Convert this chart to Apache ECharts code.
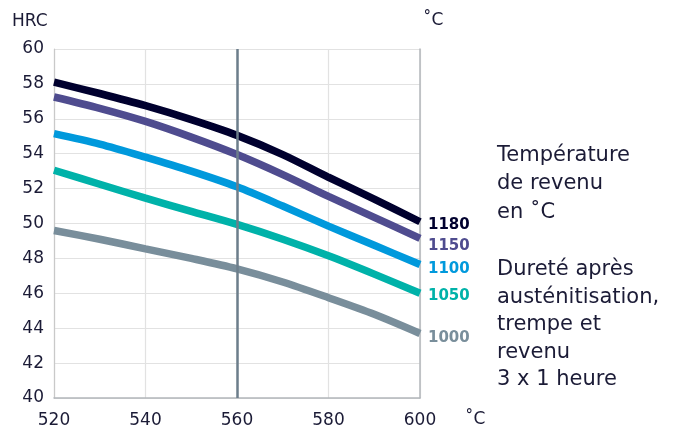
<!DOCTYPE html>
<html>
<head>
<meta charset="utf-8">
<script src="https://cdn.jsdelivr.net/npm/echarts@6/dist/echarts.min.js"></script>
<style>html,body{margin:0;padding:0;background:#fff}#c{width:677px;height:430px}</style>
</head>
<body>
<div id="c"></div>
<script>
const temps = [520, 530, 540, 550, 560, 570, 580, 590, 600];
const s1180 = [58.1, 57.45, 56.75, 55.95, 55.05, 53.95, 52.65, 51.4, 50.1];
const s1150 = [57.25, 56.6, 55.85, 54.95, 53.95, 52.8, 51.55, 50.35, 49.15];
const s1100 = [55.15, 54.55, 53.8, 53.0, 52.1, 51.0, 49.85, 48.75, 47.65];
const s1050 = [53.05, 52.25, 51.45, 50.7, 49.95, 49.1, 48.15, 47.1, 46.0];
const s1000 = [49.6, 49.1, 48.55, 48.0, 47.4, 46.65, 45.75, 44.8, 43.7];
const seriesNames = ['1180', '1150', '1100', '1050', '1000'];
const seriesColors = ['#00002e', '#4f4c8f', '#0099dc', '#00b2a9', '#798e9b'];
const labelOffsets = [[3, 3], [3, 8], [3, 5], [3, 3], [3, 5]];
const refTemp = 560;
const noteLines1 = ['Température', 'de revenu', 'en ˚C'];
const noteLines2 = ['Dureté après', 'austénitisation,', 'trempe et', 'revenu', '3 x 1 heure'];

const allData = [s1180, s1150, s1100, s1050, s1000];
const font = '"DejaVu Sans", "Noto Sans", sans-serif';
const textColor = '#1b1b36';

const series = allData.map((arr, i) => ({
  type: 'line',
  name: seriesNames[i],
  data: arr.map((v, j) => [temps[j], v]),
  smooth: 0.3,
  symbol: 'none',
  z: 3,
  lineStyle: { color: seriesColors[i], width: 7.5, cap: 'butt' },
  endLabel: {
    show: true,
    formatter: seriesNames[i],
    color: seriesColors[i],
    fontFamily: font,
    fontWeight: 'bold',
    fontSize: 15,
    distance: 5,
    offset: labelOffsets[i]
  }
}));
series.unshift({
  type: 'line',
  data: [],
  z: 1,
  markLine: {
    silent: true,
    symbol: 'none',
    label: { show: false },
    lineStyle: { color: '#6c7e8b', width: 2.5, type: 'solid' },
    data: [{ xAxis: refTemp }]
  }
});

const graphics = [
  { type: 'text', left: 12, top: 13, style: { text: 'HRC', font: '17px ' + font, fill: textColor } },
  { type: 'text', left: 423, top: 12, style: { text: '˚C', font: '17px ' + font, fill: textColor } },
  { type: 'text', left: 465, top: 411, style: { text: '˚C', font: '17px ' + font, fill: textColor } },
  { type: 'text', left: 497, top: 141, style: { text: noteLines1.join('\n'), font: '21px ' + font, lineHeight: 28.5, fill: textColor } },
  { type: 'text', left: 497, top: 256, style: { text: noteLines2.join('\n'), font: '21px ' + font, lineHeight: 27.5, fill: textColor } }
];

const chart = echarts.init(document.getElementById('c'));
chart.setOption({
  animation: false,
  backgroundColor: '#fff',
  grid: { left: 54, right: 257, top: 49, bottom: 32, containLabel: false },
  xAxis: {
    type: 'value', min: 520, max: 600, interval: 20,
    axisLine: { show: true, lineStyle: { color: '#b3b7bb', width: 1.5 } },
    axisTick: { show: false },
    splitLine: { show: true, lineStyle: { color: '#e2e2e2', width: 1.2 } },
    axisLabel: { color: textColor, fontSize: 17, fontFamily: font, margin: 14 }
  },
  yAxis: [{
    type: 'value', min: 40, max: 60, interval: 2,
    axisLine: { show: true, lineStyle: { color: '#c9c9c9', width: 1.2 } },
    axisTick: { show: false },
    splitLine: { show: true, lineStyle: { color: '#e2e2e2', width: 1.2 } },
    axisLabel: { color: textColor, fontSize: 17, fontFamily: font, margin: 10 }
  }, {
    type: 'value', min: 40, max: 60, interval: 2, position: 'right',
    axisLine: { show: true, lineStyle: { color: '#b3b7bb', width: 1.5 } },
    axisTick: { show: false }, axisLabel: { show: false }, splitLine: { show: false }
  }],
  series: series,
  graphic: graphics
});
</script>
</body>
</html>
